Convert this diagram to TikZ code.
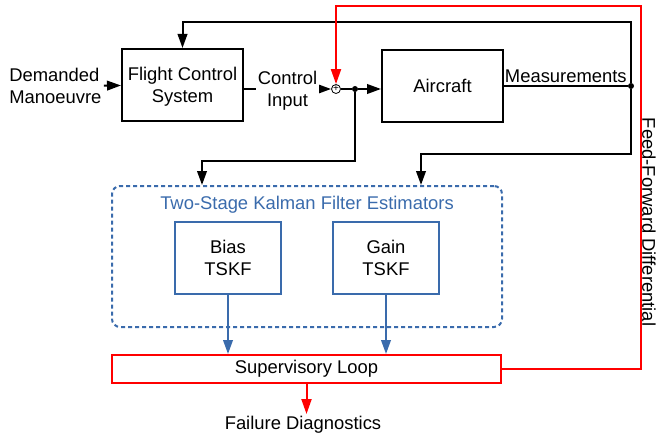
\documentclass[tikz,border=0pt]{standalone}
\usepackage{fontspec}
\setmainfont{Liberation Sans}
\usetikzlibrary{arrows.meta,positioning}
\definecolor{kfblue}{RGB}{58,107,172}
\definecolor{supred}{RGB}{255,0,0}

\begin{document}
\begin{tikzpicture}[
  x=0.5pt, y=-0.5pt,
  font=\fontsize{9.2}{11}\selectfont,
  block/.style     = {draw, line width=1pt, inner sep=0pt, align=center,
                      text depth=0pt,
                      minimum width=60.5pt, minimum height=36pt},
  tskf/.style      = {draw=kfblue, line width=1pt, inner sep=0pt, align=center,
                      minimum width=53pt, minimum height=36pt},
  group/.style     = {draw=kfblue, line width=1pt, rounded corners=4pt,
                      dash pattern=on 2pt off 1.5pt,
                      minimum width=195pt, minimum height=70.5pt},
  supbox/.style    = {draw=supred, line width=1pt, inner sep=0pt,
                      minimum width=194.5pt, minimum height=14pt},
  sumpt/.style     = {draw, thin, circle, inner sep=0pt, minimum size=4.5pt,
                      font=\fontsize{5}{5}\selectfont},
  dot/.style       = {fill, circle, inner sep=0pt, minimum size=3pt},
  lbl/.style       = {inner sep=1pt, align=center},
  arrow/.style     = {line width=1pt, -{Triangle[length=7pt,width=4.8pt]}},
  barrow/.style    = {arrow, draw=kfblue},
  rarrow/.style    = {line width=1pt, draw=supred,
                      -{Triangle[length=7.5pt,width=5pt]}},
]
  \useasboundingbox (0,0) rectangle (656,438);

  \node[lbl, align=left, anchor=west] (dem) at (7,86) {Demanded\\Manoeuvre};
  \node[block] (fcs) at (182.5,85) {Flight Control\\System};
  \node[sumpt] (sum) at (336,89) {+};
  \node[dot] (jn) at (355,89) {};
  \node[block] (ac) at (442.5,86) {Aircraft};
  \node[dot] (md) at (631,86) {};

  % knees of the return paths
  \coordinate (fbtop) at (0,22.5);
  \coordinate (jnknee) at (202,161);
  \coordinate (mdknee) at (421,154);
  \coordinate (ffc) at (641,6);

  \node[group] (kf) at (307,256.5) {};
  \node[lbl, text=kfblue] (kft) at (307,205) {Two-Stage Kalman Filter Estimators};
  \node[tskf] (bias) at (228,258) {Bias\\TSKF};
  \node[tskf] (gain) at (386,258) {Gain\\TSKF};

  \node[supbox] (sup) at (306.5,369) {Supervisory Loop};
  \node[lbl] (fd) at (303,425) {Failure Diagnostics};
  \node[lbl, rotate=-90] (ffl) at (649,222) {Feed-Forward Differential};

  % forward path
  \draw[arrow] (dem) -- (fcs);
  \draw[arrow] (fcs.east |- sum) -- node[lbl, fill=white, text depth=0pt] {Control\\Input} (sum);
  \draw[line width=1pt] (sum) -- (jn);
  \draw[arrow] (jn) -- (ac.west |- jn);
  \draw[line width=1pt] (ac.east |- md) -- node[lbl, above] {Measurements} (md);

  % feedback and estimator inputs
  \draw[arrow] (md) -- (md |- fbtop) -| (fcs);
  \draw[arrow] (jn) |- (jnknee) -- (jnknee |- kf.north);
  \draw[arrow] (md) |- (mdknee) -- (mdknee |- kf.north);

  \draw[barrow] (bias) -- (bias |- sup.north);
  \draw[barrow] (gain) -- (gain |- sup.north);

  % supervisory outputs
  \draw[rarrow] (sup.south) -- (sup.south |- fd.north);
  \draw[rarrow] (sup.east) -| (ffc) -| (sum);
\end{tikzpicture}
\end{document}
